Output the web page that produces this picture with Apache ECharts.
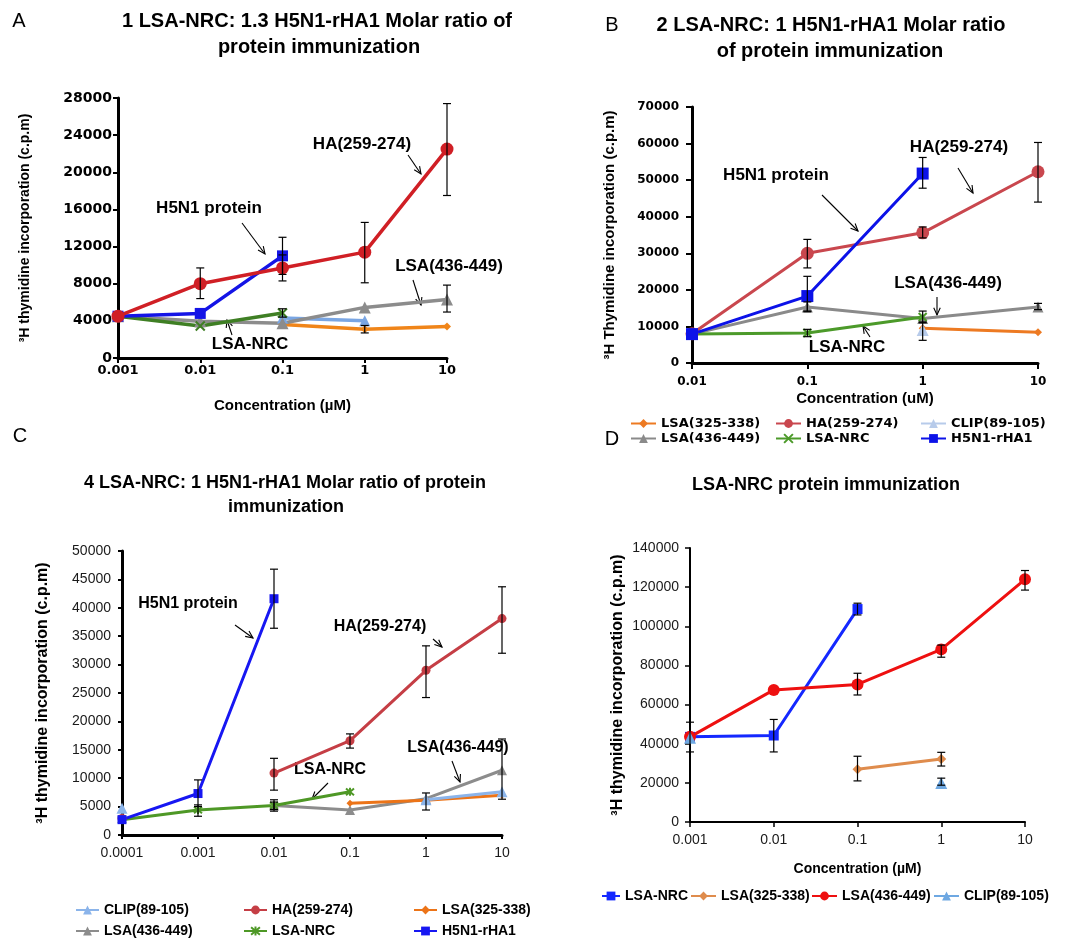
<!DOCTYPE html>
<html><head><meta charset="utf-8">
<script src="https://cdn.jsdelivr.net/npm/echarts@6/dist/echarts.min.js"></script>
<style>html,body{margin:0;padding:0;background:#fff}#c{width:1083px;height:940px}</style>
</head><body><div id="c"></div>
<script>
// ---------------- DATA ----------------
// Panel A
const xA = [0.001, 0.01, 0.1, 1, 10];
const A_LSA325 = [null, null, 3600, 3100, 3400];
const A_HA     = [4500, 8000, 9700, 11400, 22500];
const A_CLIP   = [null, null, 4300, 4000, null];
const A_LSA436 = [4500, 3950, 3750, 5450, 6300];
const A_NRC    = [4500, 3450, 4850, null, null];
const A_H5N1   = [4500, 4800, 11000, null, null];
const A_HA_err     = [null, [6400, 9700], [8300, 11100], [8100, 14600], [17500, 27400]];
const A_H5N1_err   = [null, null, [9000, 13000], null, null];
const A_LSA436_err = [null, null, null, null, [4950, 7850]];
const A_NRC_err    = [null, null, [4400, 5300], null, null];
const A_LSA325_err = [null, null, null, [2700, 3500], null];
const yTicksA = [0, 28000, 4000];

// Panel B
const xB = [0.01, 0.1, 1, 10];
const B_LSA325 = [null, null, 9500, 8400];
const B_HA     = [8000, 30000, 35600, 52300];
const B_CLIP   = [null, null, 9000, null];
const B_LSA436 = [7900, 15300, 12200, 15300];
const B_NRC    = [7900, 8200, 12600, null];
const B_H5N1   = [7900, 18300, 51800, null];
const B_HA_err     = [null, [26000, 33800], [34200, 37200], [44000, 60300]];
const B_H5N1_err   = [null, [14200, 23700], [47800, 56200], null];
const B_LSA436_err = [null, [14000, 16700], null, [14600, 16300]];
const B_NRC_err    = [null, [7200, 9200], [11000, 14200], null];
const B_CLIP_err   = [null, null, [6200, 11200], null];
const yTicksB = [0, 70000, 10000];

// Panel C
const xC = [0.0001, 0.001, 0.01, 0.1, 1, 10];
const C_CLIP   = [4700, null, null, null, 6200, 7600];
const C_HA     = [2900, null, 10900, 16600, 29000, 38100];
const C_LSA325 = [null, null, null, 5600, 6100, 7000];
const C_LSA436 = [null, null, 5200, 4400, 6400, 11400];
const C_NRC    = [2700, 4400, 5200, 7600, null, null];
const C_H5N1   = [2700, 7300, 41600, null, null, null];
const C_H5N1_err   = [null, [5000, 9700], [36400, 46800], null, null, null];
const C_HA_err     = [null, null, [7900, 13500], [15300, 17800], [24200, 33300], [32000, 43700]];
const C_NRC_err    = [null, [3300, 5300], [4500, 6200], null, null, null];
const C_LSA436_err = [null, null, [4200, 5800], null, [4400, 7400], [6300, 16900]];
const yTicksC = [0, 50000, 5000];

// Panel D
const xD = [0.001, 0.01, 0.1, 1, 10];
const D_NRC    = [43500, 44200, 108800, null, null];
const D_LSA325 = [null, null, 27000, 32200, null];
const D_LSA436 = [43500, 67500, 70300, 88200, 124000];
const D_CLIP   = [43000, null, null, 19900, null];
const D_NRC_err    = [null, [35800, 52400], [105800, 111800], null, null];
const D_LSA325_err = [null, null, [21000, 33600], [28600, 35600], null];
const D_LSA436_err = [[35800, 51000], null, [64900, 76000], [84200, 90400], [118500, 128500]];
const D_CLIP_err   = [null, null, null, [18800, 22400], null];
const yTicksD = [0, 140000, 20000];

// ---------------- HELPERS ----------------
const DV = '"DejaVu Sans"';
const LS = '"Liberation Sans", Arial, sans-serif';
const SYM_X = 'path://M0,0L10,10M10,0L0,10';
const SYM_AST = 'path://M0,0L10,10M10,0L0,10M5,-1L5,11';

function fmt(v) { return String(parseFloat(Number(v).toPrecision(6))); }

function line(gi, panel, name, xs, ys, color, symbol, size, lw) {
  const isPath = symbol.indexOf('path://') === 0;
  return {
    type: 'line', name: name + '#' + panel, xAxisIndex: gi, yAxisIndex: gi,
    data: xs.map((x, i) => ys[i] == null ? [x, '-'] : [x, ys[i]]),
    symbol: symbol, symbolSize: size, showSymbol: true, connectNulls: false,
    lineStyle: { color: color, width: lw },
    itemStyle: { color: color, borderColor: color, borderWidth: isPath ? 2 : 0 },
    emphasis: { disabled: true }, animation: false
  };
}
function err(gi, xs, errs, cap) {
  return {
    type: 'custom', xAxisIndex: gi, yAxisIndex: gi, z: 4, silent: true, animation: false,
    data: xs.map((x, i) => errs[i] ? [x, errs[i][0], errs[i][1]] : null).filter(d => d),
    encode: { x: 0, y: [1, 2] },
    renderItem: (p, api) => {
      const x = api.value(0);
      const a = api.coord([x, api.value(2)]), b = api.coord([x, api.value(1)]);
      const h = cap / 2, st = { stroke: '#000', lineWidth: 1.2 };
      return { type: 'group', children: [
        { type: 'line', shape: { x1: a[0], y1: a[1], x2: b[0], y2: b[1] }, style: st },
        { type: 'line', shape: { x1: a[0] - h, y1: a[1], x2: a[0] + h, y2: a[1] }, style: st },
        { type: 'line', shape: { x1: b[0] - h, y1: b[1], x2: b[0] + h, y2: b[1] }, style: st }
      ]};
    }
  };
}
function xAx(gi, xs, o) {
  return {
    type: 'log', logBase: 10, gridIndex: gi, min: xs[0], max: xs[xs.length - 1],
    axisLine: { show: true, onZero: false, lineStyle: { color: '#000', width: o.lw } },
    axisTick: { show: true, inside: false, length: o.tl, lineStyle: { color: '#000', width: o.tw } },
    axisLabel: { show: true, margin: o.m, color: o.c, fontFamily: o.ff, fontSize: o.xfs || o.fs, fontWeight: o.fw, formatter: fmt },
    splitLine: { show: false }, minorTick: { show: false }, minorSplitLine: { show: false },
    name: o.name || '', nameLocation: 'middle', nameGap: o.ng || 0,
    nameTextStyle: { color: '#000', fontFamily: LS, fontWeight: 'bold', fontSize: o.nfs || 14 }
  };
}
function yAx(gi, t, o) {
  return {
    type: 'value', gridIndex: gi, min: t[0], max: t[1], interval: t[2],
    axisLine: { show: true, onZero: false, lineStyle: { color: '#000', width: o.lw } },
    axisTick: { show: true, inside: false, length: o.tl, lineStyle: { color: '#000', width: o.tw } },
    axisLabel: { show: true, margin: o.m, color: o.c, fontFamily: o.ff, fontSize: o.yfs || o.fs, fontWeight: o.fw,
                 formatter: v => String(v) },
    splitLine: { show: false },
    name: o.name, nameLocation: 'middle', nameGap: o.ng, nameRotate: 90,
    nameTextStyle: { color: '#000', fontFamily: LS, fontWeight: 'bold', fontSize: o.nfs }
  };
}
function leg(name, left, cy, ff, fs, iw) {
  return {
    show: true, orient: 'horizontal', left: left, top: cy - 8, padding: 0, itemGap: 0,
    itemWidth: iw || 25, itemHeight: 11, selectedMode: false, data: [name],
    formatter: n => n.split('#')[0],
    textStyle: { color: '#000', fontFamily: ff, fontSize: fs, fontWeight: 'bold' }
  };
}
function txt(x, y, s, font, align) {
  return { type: 'text', x: x, y: y, silent: true,
    style: { text: s, font: font, fill: '#000', align: align || 'center', verticalAlign: 'middle',
             textAlign: align || 'center', textVerticalAlign: 'middle' } };
}
function arrow(x1, y1, x2, y2) {
  const ang = Math.atan2(y2 - y1, x2 - x1), L = 8, a = 0.42;
  const st = { stroke: '#000', lineWidth: 1.1, fill: null };
  return { type: 'group', silent: true, children: [
    { type: 'line', shape: { x1, y1, x2, y2 }, style: st },
    { type: 'polyline', shape: { points: [
      [x2 - L * Math.cos(ang - a), y2 - L * Math.sin(ang - a)], [x2, y2],
      [x2 - L * Math.cos(ang + a), y2 - L * Math.sin(ang + a)]] }, style: st }
  ]};
}

// ---------------- OPTION ----------------
const axA = { lw: 3, tl: 5, tw: 2, m: 6, c: '#000', ff: DV, fs: 13, yfs: 14, xfs: 13, fw: 'bold' };
const axB = { lw: 3, tl: 6, tw: 2, m: 13, c: '#000', ff: DV, fs: 12, fw: 'bold' };
const axC = { lw: 3, tl: 4, tw: 2, m: 11, c: '#1a1a1a', ff: LS, fs: 14, fw: 'normal' };
const axD = { lw: 2, tl: 5, tw: 1.5, m: 11, c: '#1a1a1a', ff: LS, fs: 14, fw: 'normal' };

const series = [
  // A
  line(0, 'A', 'CLIP(89-105)', xA, A_CLIP, '#7aa6e3', 'triangle', 11, 3.5),
  line(0, 'A', 'LSA(325-338)', xA, A_LSA325, '#f08519', 'diamond', 8, 3.5),
  line(0, 'A', 'LSA(436-449)', xA, A_LSA436, '#8c8c8c', 'triangle', 12, 3.5),
  line(0, 'A', 'LSA-NRC', xA, A_NRC, '#3f7f24', SYM_X, 9, 3.5),
  line(0, 'A', 'H5N1-rHA1', xA, A_H5N1, '#1414e6', 'rect', 11, 3.5),
  line(0, 'A', 'HA(259-274)', xA, A_HA, '#d01f25', 'circle', 13, 3.5),
  err(0, xA, A_HA_err, 8), err(0, xA, A_H5N1_err, 8), err(0, xA, A_LSA436_err, 8),
  err(0, xA, A_NRC_err, 8), err(0, xA, A_LSA325_err, 8),
  // B
  line(1, 'B', 'LSA(325-338)', xB, B_LSA325, '#ed7a22', 'diamond', 8, 3),
  line(1, 'B', 'CLIP(89-105)', xB, B_CLIP, '#b7cbea', 'triangle', 12, 3),
  line(1, 'B', 'LSA(436-449)', xB, B_LSA436, '#8a8a8a', 'triangle', 11, 3),
  line(1, 'B', 'LSA-NRC', xB, B_NRC, '#4c9a2a', SYM_X, 8, 3),
  line(1, 'B', 'HA(259-274)', xB, B_HA, '#c9474e', 'circle', 13, 3),
  line(1, 'B', 'H5N1-rHA1', xB, B_H5N1, '#0c12e8', 'rect', 12, 3),
  err(1, xB, B_HA_err, 8), err(1, xB, B_H5N1_err, 8), err(1, xB, B_LSA436_err, 8),
  err(1, xB, B_NRC_err, 8), err(1, xB, B_CLIP_err, 8),
  // C
  line(2, 'C', 'LSA(436-449)', xC, C_LSA436, '#8c8c8c', 'triangle', 10, 3),
  line(2, 'C', 'LSA(325-338)', xC, C_LSA325, '#ec7418', 'diamond', 7, 3),
  line(2, 'C', 'CLIP(89-105)', xC, C_CLIP, '#8bb4ea', 'triangle', 11, 3),
  line(2, 'C', 'HA(259-274)', xC, C_HA, '#c53e45', 'circle', 9, 3),
  line(2, 'C', 'LSA-NRC', xC, C_NRC, '#4e9826', SYM_AST, 8, 3),
  line(2, 'C', 'H5N1-rHA1', xC, C_H5N1, '#1717f2', 'rect', 9, 3),
  err(2, xC, C_H5N1_err, 8), err(2, xC, C_HA_err, 8), err(2, xC, C_NRC_err, 8), err(2, xC, C_LSA436_err, 8),
  // D
  line(3, 'D', 'LSA(325-338)', xD, D_LSA325, '#df8c4d', 'diamond', 10, 3),
  line(3, 'D', 'LSA-NRC', xD, D_NRC, '#1428ff', 'rect', 10, 3),
  line(3, 'D', 'LSA(436-449)', xD, D_LSA436, '#ee1010', 'circle', 12, 3),
  line(3, 'D', 'CLIP(89-105)', xD, D_CLIP, '#6ea8e2', 'triangle', 12, 3),
  err(3, xD, D_NRC_err, 8), err(3, xD, D_LSA325_err, 8), err(3, xD, D_LSA436_err, 8), err(3, xD, D_CLIP_err, 8)
];

const TIT = 'bold 20px ' + LS;
const ANN = 'bold 17px ' + LS;
const graphic = [
  txt(19, 21, 'A', '20px ' + LS), txt(612, 25, 'B', '20px ' + LS),
  txt(20, 436, 'C', '20px ' + LS), txt(612, 439, 'D', '20px ' + LS),
  txt(317, 21, '1 LSA-NRC: 1.3 H5N1-rHA1 Molar ratio of', TIT),
  txt(319, 47, 'protein immunization', TIT),
  txt(831, 25, '2 LSA-NRC: 1 H5N1-rHA1 Molar ratio', TIT),
  txt(830, 51, 'of protein immunization', TIT),
  txt(285, 483, '4 LSA-NRC: 1 H5N1-rHA1 Molar ratio of protein', 'bold 18px ' + LS),
  txt(286, 507, 'immunization', 'bold 18px ' + LS),
  txt(826, 485, 'LSA-NRC protein immunization', 'bold 18px ' + LS),
  // A annotations
  txt(362, 144, 'HA(259-274)', ANN), arrow(408, 155, 421, 174),
  txt(209, 208, 'H5N1 protein', ANN), arrow(242, 223, 265, 254),
  txt(449, 266, 'LSA(436-449)', ANN), arrow(413, 280, 421, 305),
  txt(250, 344, 'LSA-NRC', ANN), arrow(232, 335, 227, 320),
  // B annotations
  txt(959, 147, 'HA(259-274)', ANN), arrow(958, 168, 973, 193),
  txt(776, 175, 'H5N1 protein', ANN), arrow(822, 195, 858, 231),
  txt(948, 283, 'LSA(436-449)', ANN), arrow(937, 297, 937, 315),
  txt(847, 347, 'LSA-NRC', ANN), arrow(870, 337, 863, 326),
  // C annotations
  txt(188, 604, 'H5N1 protein', 'bold 16px ' + LS), arrow(235, 625, 253, 638),
  txt(380, 627, 'HA(259-274)', 'bold 16px ' + LS), arrow(433, 639, 442, 647),
  txt(330, 770, 'LSA-NRC', 'bold 16px ' + LS), arrow(328, 783, 312, 799),
  txt(458, 748, 'LSA(436-449)', 'bold 16px ' + LS), arrow(452, 761, 460, 782)
];

const legends = [
  // B legend (3 columns x 2 rows)
  leg('LSA(325-338)#B', 630, 425, DV, 13), leg('HA(259-274)#B', 775, 425, DV, 13), leg('CLIP(89-105)#B', 920, 425, DV, 13),
  leg('LSA(436-449)#B', 630, 440, DV, 13), leg('LSA-NRC#B', 775, 440, DV, 13), leg('H5N1-rHA1#B', 920, 440, DV, 13),
  // C legend
  leg('CLIP(89-105)#C', 75, 911, LS, 14, 23), leg('HA(259-274)#C', 243, 911, LS, 14, 23), leg('LSA(325-338)#C', 413, 911, LS, 14, 23),
  leg('LSA(436-449)#C', 75, 932, LS, 14, 23), leg('LSA-NRC#C', 243, 932, LS, 14, 23), leg('H5N1-rHA1#C', 413, 932, LS, 14, 23),
  // D legend
  leg('LSA-NRC#D', 601, 897, LS, 14, 18), leg('LSA(325-338)#D', 690, 897, LS, 14, 25),
  leg('LSA(436-449)#D', 811, 897, LS, 14, 25), leg('CLIP(89-105)#D', 933, 897, LS, 14, 25)
];

const option = {
  backgroundColor: '#fff', animation: false,
  grid: [
    { left: 118, top: 98, width: 329, height: 260, containLabel: false, outerBoundsMode: 'none' },
    { left: 692, top: 107, width: 346, height: 256, containLabel: false, outerBoundsMode: 'none' },
    { left: 122, top: 551, width: 380, height: 284, containLabel: false, outerBoundsMode: 'none' },
    { left: 690, top: 548, width: 335, height: 274, containLabel: false, outerBoundsMode: 'none' }
  ],
  xAxis: [
    xAx(0, xA, Object.assign({ name: 'Concentration (\u00b5M)', ng: 40, nfs: 15 }, axA)),
    xAx(1, xB, Object.assign({ name: 'Concentration (uM)', ng: 28, nfs: 15 }, axB)),
    xAx(2, xC, axC),
    xAx(3, xD, Object.assign({ name: 'Concentration (\u00b5M)', ng: 40, nfs: 14 }, axD))
  ],
  yAxis: [
    yAx(0, yTicksA, Object.assign({ name: '\u00b3H thymidine incorporation (c.p.m)', ng: 86, nfs: 14 }, axA)),
    yAx(1, yTicksB, Object.assign({ name: '\u00b3H Thymidine incorporation (c.p.m)', ng: 75, nfs: 15 }, axB)),
    yAx(2, yTicksC, Object.assign({ name: '\u00b3H thymidine incorporation (c.p.m)', ng: 71, nfs: 16 }, axC)),
    yAx(3, yTicksD, Object.assign({ name: '\u00b3H thymidine incorporation (c.p.m)', ng: 64, nfs: 16 }, axD))
  ],
  legend: legends,
  series: series,
  graphic: graphic
};
const chart = echarts.init(document.getElementById('c'));
chart.setOption(option);
</script></body></html>
